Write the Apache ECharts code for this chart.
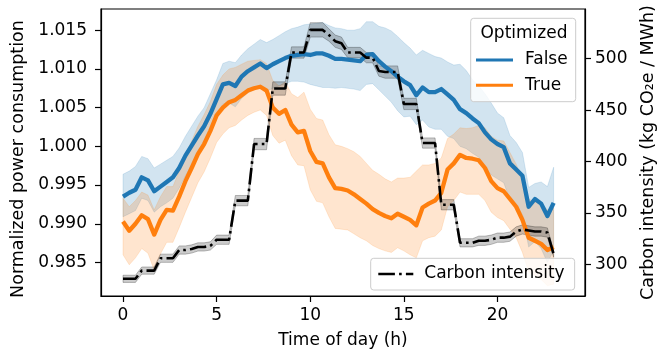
<!DOCTYPE html>
<html><head><meta charset="utf-8">
<script src="https://cdn.jsdelivr.net/npm/echarts@6/dist/echarts.min.js"></script>
<style>html,body{margin:0;padding:0;background:#fff}#c{width:665px;height:354px}</style>
</head><body><div id="c"></div>
<script>
// sample times: every 20 minutes from 0 h to 23 h
const hours = []; for (let i = 0; i < 70; i++) hours.push(i / 3);

const xTicks = [0, 5, 10, 15, 20];
const powerTicks = [0.985, 0.990, 0.995, 1.000, 1.005, 1.010, 1.015];
const carbonTicks = [300, 350, 400, 450, 500];

// Optimized = False (mean normalized power)
const falseMean = [
 0.9935,0.9940,0.9944, 0.9960,0.9956,0.9942, 0.9948,0.9954,0.9960, 0.9972,0.9988,1.0001,
 1.0014,1.0026,1.0042, 1.0061,1.0080,1.0082, 1.0078,1.0090,1.0097, 1.0102,1.0107,1.0101,
 1.0106,1.0110,1.0114, 1.0117,1.0118,1.0119, 1.0118,1.0120,1.0120, 1.0117,1.0113,1.0113,
 1.0112,1.0111,1.0110, 1.0118,1.0119,1.0110, 1.0103,1.0097,1.0090, 1.0084,1.0079,1.0066,
 1.0076,1.0070,1.0070, 1.0074,1.0067,1.0060, 1.0048,1.0043,1.0036, 1.0030,1.0018,1.0009,
 1.0003,0.9999,0.9978, 0.9970,0.9962,0.9922, 0.9932,0.9926,0.9910, 0.9927];
// confidence band distances above / below the mean, in units of 1e-4
const falseErrUp = [
 29,28,30, 27,28,30, 29,28,27, 26,25,25, 25,24,26, 25,27,28, 30,28,29, 30,31,33,
 32,33,34, 35,36,38, 40,39,40, 39,40,39, 38,39,42, 43,42,45, 50,52,52, 50,48,52,
 48,50,46, 40,42,45, 58,55,50, 48,50,47, 40,38,36, 35,30,25, 20,28,38, 46];
const falseErrDown = [
 26,27,27, 27,26,27, 26,27,27, 26,26,25, 25,25,24, 24,25,26, 27,28,28, 29,30,30,
 31,32,33, 33,34,36, 38,42,44, 41,38,37, 37,37,38, 38,38,37, 38,40,44, 46,40,38,
 42,45,48, 52,54,50, 48,46,45, 44,45,46, 45,46,47, 48,50,52, 55,58,60, 62];

// Optimized = True
const trueMean = [
 0.9903,0.9891,0.9900, 0.9911,0.9906,0.9886, 0.9905,0.9918,0.9917, 0.9935,0.9955,0.9972,
 0.9990,1.0003,1.0020, 1.0040,1.0050,1.0057, 1.0060,1.0066,1.0072, 1.0075,1.0077,1.0072,
 1.0050,1.0042,1.0047, 1.0028,1.0018,1.0020, 0.9994,0.9980,0.9978, 0.9960,0.9946,0.9945,
 0.9943,0.9938,0.9932, 0.9926,0.9919,0.9914, 0.9910,0.9907,0.9913, 0.9909,0.9905,0.9898,
 0.9921,0.9926,0.9930, 0.9940,0.9970,0.9978, 0.9989,0.9985,0.9984, 0.9982,0.9972,0.9955,
 0.9946,0.9942,0.9932, 0.9922,0.9905,0.9882, 0.9878,0.9874,0.9866, 0.9870];
const trueErrUp = [
 30,31,30, 30,31,32, 30,30,31, 33,35,35, 36,38,38, 40,42,43, 42,40,38, 36,35,35,
 35,36,36, 40,45,50, 54,56,56, 55,56,55, 54,55,55, 52,50,50, 48,47,46, 50,55,70,
 55,50,48, 45,40,38, 35,38,40, 45,52,58, 62,65,60, 55,52,50, 50,52,52, 50];
const trueErrDown = [
 43,44,44, 43,44,46, 44,42,41, 40,40,38, 37,36,35, 35,34,33, 33,32,32, 31,30,32,
 36,38,39, 40,42,45, 50,51,51, 51,52,52, 51,51,50, 48,47,46, 45,44,44, 44,45,42,
 43,44,46, 48,48,48, 48,47,46, 44,42,40, 38,38,39, 40,42,44, 45,46,46, 48];

// Carbon intensity (kg CO2e / MWh)
const carbon = [
 286,286,286, 294,294,294, 306,306,306, 314,314,315, 317,317,318, 324,324,324,
 362,362,362, 417,417,417, 471,471,471, 506,506,506, 528,528,528, 523,517,515,
 506,506,506, 501,501,488, 487,487,487, 456,456,456, 418,418,418, 358,358,358,
 321,321,321, 323,323,324, 326,326,327, 332,334,333, 332,332,331, 310];
const carbonErr = [
 3.5,3.5,3.5, 3.5,3.5,3.5, 4,4,4, 4,4,4, 4,4,4, 4.5,4.5,4.5,
 5,5,5, 5.5,5.5,5.5, 6.5,6.5,6.5, 5.5,5.5,5.5, 7,7,7, 6,6,6,
 5,5,5, 5,5,5, 6,6,6, 5.5,5.5,5.5, 5,5,5, 5,5,5,
 4,4,4, 4.5,4.5,4.5, 4.5,4.5,4.5, 4.5,4.5,4.5, 4.5,4.5,4.5, 3];

const FONT = 'DejaVu Sans';
const FS = 17;

function pairs(vals) { return hours.map((t, i) => [t, vals[i]]); }
function band(lo, hi, fill, edge, yIdx) {
  return {
    type: 'custom', yAxisIndex: yIdx, silent: true,
    data: hours.map((t, i) => [t, lo[i], hi[i]]),
    encode: { x: 0, y: [1, 2] },
    renderItem: function (params, api) {
      if (params.dataIndex !== 0) return null;
      const pts = [];
      for (let i = 0; i < hours.length; i++) pts.push(api.coord([hours[i], hi[i]]));
      for (let i = hours.length - 1; i >= 0; i--) pts.push(api.coord([hours[i], lo[i]]));
      return { type: 'polygon', shape: { points: pts }, style: { fill: fill, stroke: edge, lineWidth: 1 } };
    }
  };
}
const falseLo = falseMean.map((v, i) => v - falseErrDown[i] / 1e4);
const falseHi = falseMean.map((v, i) => v + falseErrUp[i] / 1e4);
const trueLo = trueMean.map((v, i) => v - trueErrDown[i] / 1e4);
const trueHi = trueMean.map((v, i) => v + trueErrUp[i] / 1e4);
const carbonLo = carbon.map((v, i) => v - carbonErr[i]);
const carbonHi = carbon.map((v, i) => v + carbonErr[i]);

const BLUE = '#1f77b4', ORANGE = '#ff7f0e';
const txt = { fontFamily: FONT, fontSize: FS, color: '#000' };
const axLine = { show: true, onZero: false, lineStyle: { color: '#000', width: 1.2 } };
const tick = (vals) => ({ show: true, customValues: vals, length: 6, lineStyle: { color: '#000', width: 1.2 } });

const chart = echarts.init(document.getElementById('c'), null, { renderer: 'canvas' });
chart.setOption({
  animation: false,
  backgroundColor: '#fff',
  grid: { left: 101, right: 79, top: 9, bottom: 56, show: true, borderColor: '#000', borderWidth: 1.2, backgroundColor: 'transparent' },
  xAxis: {
    type: 'value', min: -1.175, max: 24.675,
    axisLine: axLine, splitLine: { show: false },
    axisTick: tick(xTicks),
    axisLabel: Object.assign({ customValues: xTicks, margin: 11 }, txt),
    name: 'Time of day (h)', nameLocation: 'middle', nameGap: 36, nameTextStyle: txt
  },
  yAxis: [{
    type: 'value', min: 0.98067, max: 1.01774, position: 'left',
    axisLine: axLine, splitLine: { show: false },
    axisTick: tick(powerTicks),
    axisLabel: Object.assign({ customValues: powerTicks, margin: 14, formatter: v => v.toFixed(3) }, txt),
    name: 'Normalized power consumption', nameLocation: 'middle', nameRotate: 90, nameGap: 71,
    nameTextStyle: Object.assign({}, txt, { fontSize: 17.5, padding: [0, 13, 0, 0] })
  }, {
    type: 'value', min: 269.3, max: 548.3, position: 'right',
    axisLine: axLine, splitLine: { show: false },
    axisTick: tick(carbonTicks),
    axisLabel: Object.assign({ customValues: carbonTicks, margin: 10 }, txt),
    name: 'Carbon intensity (kg CO₂e / MWh)', nameLocation: 'middle', nameRotate: 90, nameGap: 54,
    nameTextStyle: Object.assign({}, txt, { fontSize: 17.5 })
  }],
  legend: [{
    data: ['False', 'True'], orient: 'vertical', left: 470.7, top: 18.3,
    padding: [31.7, 8, 6.4, 5.3], itemGap: 5.3, itemWidth: 37, itemHeight: 3, icon: 'rect',
    borderColor: '#cccccc', borderWidth: 1, borderRadius: 3, backgroundColor: 'rgba(255,255,255,0.8)',
    textStyle: Object.assign({ lineHeight: 20, padding: [0, 0, 0, 7] }, txt), selectedMode: false
  }, {
    data: ['Carbon intensity'], orient: 'vertical', left: 370.7, top: 258.3,
    padding: [5.7, 10, 6, 7.6], itemWidth: 35, itemHeight: 2.6,
    icon: 'path://M0,0H16.6V2.6H0Z M20.8,0H23.4V2.6H20.8Z M27.6,0H35V2.6H27.6Z',
    itemStyle: { color: '#000' },
    borderColor: '#cccccc', borderWidth: 1, borderRadius: 3, backgroundColor: 'rgba(255,255,255,0.8)',
    textStyle: Object.assign({ lineHeight: 20, padding: [0, 0, 0, 6] }, txt), selectedMode: false
  }],
  graphic: [{
    type: 'text', x: 524, y: 33.3, z: 100,
    style: { text: 'Optimized', fontFamily: FONT, fontSize: FS, fill: '#000', align: 'center', verticalAlign: 'middle' }
  }],
  series: [
    band(falseLo, falseHi, 'rgba(31,119,180,0.2)', 'rgba(31,119,180,0.15)', 0),
    band(trueLo, trueHi, 'rgba(255,127,14,0.2)', 'rgba(255,127,14,0.15)', 0),
    { name: 'False', type: 'line', yAxisIndex: 0, data: pairs(falseMean), symbol: 'none', color: BLUE,
      lineStyle: { color: BLUE, width: 4.3, join: 'round' } },
    { name: 'True', type: 'line', yAxisIndex: 0, data: pairs(trueMean), symbol: 'none', color: ORANGE,
      lineStyle: { color: ORANGE, width: 4.3, join: 'round' } },
    band(carbonLo, carbonHi, 'rgba(0,0,0,0.2)', 'rgba(0,0,0,0.25)', 1),
    { name: 'Carbon intensity', type: 'line', yAxisIndex: 1, data: pairs(carbon), symbol: 'none', color: '#000',
      lineStyle: { color: '#000', width: 2.6, type: [16.6, 4.2, 2.6, 4.2], cap: 'butt' } }
  ]
});
</script>
</body></html>
